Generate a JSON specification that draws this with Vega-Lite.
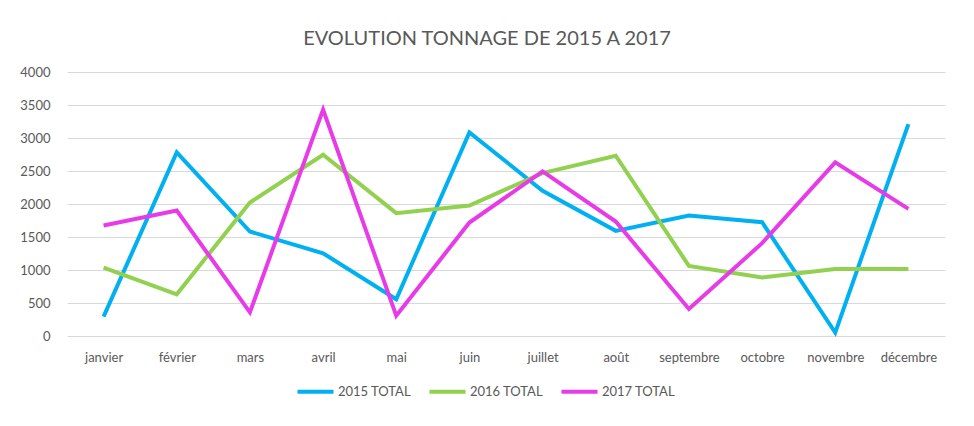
{
  "$schema": "https://vega.github.io/schema/vega-lite/v6.json",
  "autosize": {"type": "none"},
  "padding": {"left": 67, "top": 72, "right": 29, "bottom": 90},
  "width": 878,
  "height": 264,
  "background": "white",
  "title": {
    "text": "EVOLUTION TONNAGE DE 2015 A 2017",
    "font": "Lato",
    "fontSize": 20,
    "fontWeight": "normal",
    "color": "#595959",
    "anchor": "middle",
    "dx": -19,
    "offset": 17
  },
  "data": {
    "values": [
      {"mois": "janvier", "serie": "2015 TOTAL", "valeur": 293},
      {"mois": "février", "serie": "2015 TOTAL", "valeur": 2781},
      {"mois": "mars", "serie": "2015 TOTAL", "valeur": 1583},
      {"mois": "avril", "serie": "2015 TOTAL", "valeur": 1254},
      {"mois": "mai", "serie": "2015 TOTAL", "valeur": 556},
      {"mois": "juin", "serie": "2015 TOTAL", "valeur": 3085},
      {"mois": "juillet", "serie": "2015 TOTAL", "valeur": 2200},
      {"mois": "août", "serie": "2015 TOTAL", "valeur": 1593},
      {"mois": "septembre", "serie": "2015 TOTAL", "valeur": 1826},
      {"mois": "octobre", "serie": "2015 TOTAL", "valeur": 1724},
      {"mois": "novembre", "serie": "2015 TOTAL", "valeur": 51},
      {"mois": "décembre", "serie": "2015 TOTAL", "valeur": 3211},
      {"mois": "janvier", "serie": "2016 TOTAL", "valeur": 1037},
      {"mois": "février", "serie": "2016 TOTAL", "valeur": 632},
      {"mois": "mars", "serie": "2016 TOTAL", "valeur": 2023},
      {"mois": "avril", "serie": "2016 TOTAL", "valeur": 2746},
      {"mois": "mai", "serie": "2016 TOTAL", "valeur": 1861},
      {"mois": "juin", "serie": "2016 TOTAL", "valeur": 1977},
      {"mois": "juillet", "serie": "2016 TOTAL", "valeur": 2468},
      {"mois": "août", "serie": "2016 TOTAL", "valeur": 2731},
      {"mois": "septembre", "serie": "2016 TOTAL", "valeur": 1062},
      {"mois": "octobre", "serie": "2016 TOTAL", "valeur": 885},
      {"mois": "novembre", "serie": "2016 TOTAL", "valeur": 1016},
      {"mois": "décembre", "serie": "2016 TOTAL", "valeur": 1016},
      {"mois": "janvier", "serie": "2017 TOTAL", "valeur": 1674},
      {"mois": "février", "serie": "2017 TOTAL", "valeur": 1901},
      {"mois": "mars", "serie": "2017 TOTAL", "valeur": 359},
      {"mois": "avril", "serie": "2017 TOTAL", "valeur": 3429},
      {"mois": "mai", "serie": "2017 TOTAL", "valeur": 308},
      {"mois": "juin", "serie": "2017 TOTAL", "valeur": 1719},
      {"mois": "juillet", "serie": "2017 TOTAL", "valeur": 2493},
      {"mois": "août", "serie": "2017 TOTAL", "valeur": 1735},
      {"mois": "septembre", "serie": "2017 TOTAL", "valeur": 410},
      {"mois": "octobre", "serie": "2017 TOTAL", "valeur": 1406},
      {"mois": "novembre", "serie": "2017 TOTAL", "valeur": 2630},
      {"mois": "décembre", "serie": "2017 TOTAL", "valeur": 1927}
    ]
  },
  "mark": {"type": "line", "strokeWidth": 4, "strokeJoin": "miter", "strokeCap": "butt"},
  "encoding": {
    "x": {
      "field": "mois",
      "type": "nominal",
      "sort": null,
      "scale": {"type": "point", "padding": 0.5},
      "axis": {
        "title": null,
        "labelAngle": 0,
        "ticks": false,
        "domain": false,
        "grid": false,
        "labelFont": "Lato",
        "labelFontSize": 13,
        "labelColor": "#595959",
        "labelPadding": 15
      }
    },
    "y": {
      "field": "valeur",
      "type": "quantitative",
      "scale": {"domain": [0, 4000], "nice": false},
      "axis": {
        "title": null,
        "values": [0, 500, 1000, 1500, 2000, 2500, 3000, 3500, 4000],
        "format": "d",
        "ticks": false,
        "domain": false,
        "gridColor": "#D9D9D9",
        "gridWidth": 1,
        "labelFont": "Lato",
        "labelFontSize": 13,
        "labelColor": "#595959",
        "labelPadding": 17
      }
    },
    "color": {
      "field": "serie",
      "type": "nominal",
      "scale": {
        "domain": ["2015 TOTAL", "2016 TOTAL", "2017 TOTAL"],
        "range": ["#00B0F0", "#92D050", "#E83BE8"]
      },
      "legend": {
        "title": null,
        "orient": "none",
        "direction": "horizontal",
        "legendX": 228,
        "legendY": 299,
        "symbolType": "stroke",
        "symbolSize": 1300,
        "symbolStrokeWidth": 4,
        "labelFont": "Lato",
        "labelFontSize": 13,
        "labelColor": "#595959",
        "labelOffset": 2,
        "columnPadding": 10
      }
    }
  },
  "config": {
    "view": {"stroke": null}
  }
}
